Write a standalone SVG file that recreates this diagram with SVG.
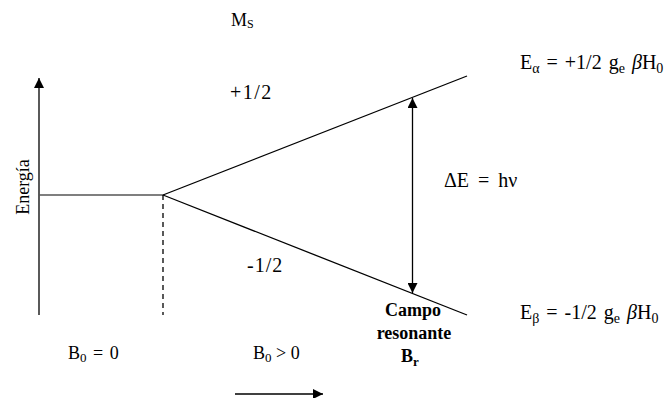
<svg xmlns="http://www.w3.org/2000/svg" width="670" height="398" viewBox="0 0 670 398">
<style>
text{font-family:"Liberation Serif","Times New Roman",serif;font-size:18px;fill:#000}
.m{font-size:20px}
.b{font-weight:bold}
.ln{stroke:#000;stroke-width:1.3;fill:none}
</style>
<defs>
<marker id="ah" viewBox="0 0 10 10" refX="10" refY="5" markerWidth="10" markerHeight="10" markerUnits="userSpaceOnUse" orient="auto-start-reverse">
<path d="M0,0 L10,5 L0,10 z" fill="#000"/>
</marker>
</defs>
<rect width="670" height="398" fill="#fff"/>
<g id="connectors">
<line class="ln" x1="39" y1="315" x2="39" y2="78" marker-end="url(#ah)"/>
<line x1="39" y1="195" x2="163" y2="195" stroke="#555" stroke-width="1.3"/>
<line class="ln" x1="163" y1="195" x2="467" y2="76"/>
<line class="ln" x1="163" y1="195" x2="467" y2="315"/>
<line class="ln" x1="163" y1="195" x2="163" y2="315" stroke-dasharray="5,4"/>
<line class="ln" x1="412.5" y1="98" x2="412.5" y2="293" marker-start="url(#ah)" marker-end="url(#ah)"/>
<line class="ln" x1="235" y1="394" x2="323" y2="394" marker-end="url(#ah)"/>
</g>
<g id="ms"><text x="231" y="26" font-size="17">M<tspan font-size="12" dy="2">S</tspan></text></g>
<g id="energia"><text transform="translate(29,187) rotate(-90)" text-anchor="middle">Energía</text></g>
<g id="plus"><text class="m" x="230" y="99" letter-spacing="1.5">+1/2</text></g>
<g id="minus"><text class="m" x="247" y="272" letter-spacing="1">-1/2</text></g>
<g id="deltaE"><text class="m" x="444" y="187" word-spacing="4">ΔE = hν</text></g>
<g id="ealpha"><text class="m" x="520" y="69" word-spacing="2">E<tspan font-size="14" dy="4">α</tspan><tspan dy="-4"> = +1/2 g</tspan><tspan font-size="14" dy="4">e</tspan><tspan dy="-4" font-style="italic"> β</tspan>H<tspan font-size="14" dy="4">0</tspan></text></g>
<g id="ebeta"><text class="m" x="520" y="319" word-spacing="2">E<tspan font-size="14" dy="4">β</tspan><tspan dy="-4"> = -1/2 g</tspan><tspan font-size="14" dy="4">e</tspan><tspan dy="-4" font-style="italic"> β</tspan>H<tspan font-size="14" dy="4">0</tspan></text></g>
<g id="b0zero"><text x="68" y="359" word-spacing="2">B<tspan font-size="13" dy="3">0</tspan><tspan dy="-3"> = 0</tspan></text></g>
<g id="b0pos"><text x="253" y="359">B<tspan font-size="13" dy="3">0</tspan><tspan dy="-3"> &gt; 0</tspan></text></g>
<g id="campo">
<text class="b" x="413" y="316" text-anchor="middle">Campo</text>
<text class="b" x="414" y="339" text-anchor="middle">resonante</text>
<text class="b" x="410" y="362" text-anchor="middle">B<tspan font-size="13" dy="4">r</tspan></text>
</g>
</svg>
